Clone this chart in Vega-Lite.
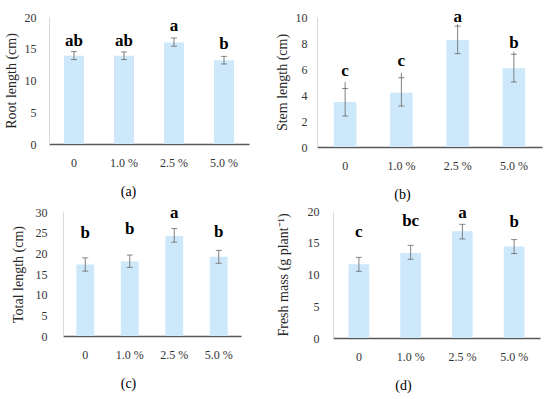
{
  "$schema": "https://vega.github.io/schema/vega-lite/v6.json",
  "padding": {"left": 4, "top": 7, "right": 5, "bottom": 3},
  "background": "white",
  "config": {
    "view": {"stroke": null},
    "font": "Liberation Serif",
    "axis": {"grid": false, "ticks": false, "labelFont": "Liberation Serif", "labelFontSize": 12, "labelColor": "#333333", "titleFont": "Liberation Serif", "titleFontWeight": "normal", "titleFontSize": 14, "titleColor": "#262626"},
    "axisX": {"domainColor": "#595959", "domainWidth": 1.5, "labelPadding": 13, "titlePadding": 16, "labelAngle": 0, "titleFontSize": 14, "titleColor": "#000000"},
    "axisY": {"domainColor": "#d9d9d9", "labelPadding": 11, "titlePadding": 6, "labelOverlap": false}
  },
  "columns": 2,
  "align": "none",
  "spacing": {"row": 2, "column": 26},
  "concat": [
        {
          "width": 200, "height": 127,
          "data": {"values": [
            {"treatment": "0", "mean": 13.9, "low": 13.3, "high": 14.55, "top": 14.55, "letter": "ab", "letterPos": 15.5},
            {"treatment": "1.0 %", "mean": 13.9, "low": 13.3, "high": 14.5, "top": 14.5, "letter": "ab", "letterPos": 15.5},
            {"treatment": "2.5 %", "mean": 16.0, "low": 15.4, "high": 16.7, "top": 16.7, "letter": "a", "letterPos": 17.8},
            {"treatment": "5.0 %", "mean": 13.2, "low": 12.6, "high": 13.8, "top": 13.8, "letter": "b", "letterPos": 15.0}
          ]},
          "encoding": {"x": {"field": "treatment", "type": "nominal", "sort": null, "scale": {"paddingInner": 0.6, "paddingOuter": 0.3}, "axis": {"title": "(a)", "titleX": 79}}},
          "layer": [
            {"mark": {"type": "bar", "color": "#cce8fa"}, "encoding": {"y": {"field": "mean", "type": "quantitative", "scale": {"domain": [0, 20]}, "axis": {"values": [0, 5, 10, 15, 20], "labelOverlap": false, "title": "Root length (cm)", "labelPadding": 13, "titlePadding": 6}}}},
            {"mark": {"type": "rule", "color": "#7f7f7f", "strokeWidth": 1}, "encoding": {"y": {"field": "low", "type": "quantitative", "axis": {"values": [0, 5, 10, 15, 20], "labelOverlap": false, "title": "Root length (cm)", "labelPadding": 13, "titlePadding": 6}}, "y2": {"field": "top"}}},
            {"mark": {"type": "tick", "color": "#595959", "size": 6, "thickness": 1}, "encoding": {"y": {"field": "low", "type": "quantitative", "axis": {"values": [0, 5, 10, 15, 20], "labelOverlap": false, "title": "Root length (cm)", "labelPadding": 13, "titlePadding": 6}}}},
            {"mark": {"type": "tick", "color": "#595959", "size": 6, "thickness": 1}, "encoding": {"y": {"field": "high", "type": "quantitative", "axis": {"values": [0, 5, 10, 15, 20], "labelOverlap": false, "title": "Root length (cm)", "labelPadding": 13, "titlePadding": 6}}}},
            {"mark": {"type": "text", "fontWeight": "bold", "fontSize": 17, "baseline": "alphabetic", "font": "Liberation Serif", "color": "#000000"}, "encoding": {"y": {"field": "letterPos", "type": "quantitative", "axis": {"values": [0, 5, 10, 15, 20], "labelOverlap": false, "title": "Root length (cm)", "labelPadding": 13, "titlePadding": 6}}, "text": {"field": "letter"}}}
          ]
        },
        {
          "width": 225, "height": 130,
          "data": {"values": [
            {"treatment": "0", "mean": 3.46, "low": 2.38, "high": 4.5, "top": 5.0, "letter": "c", "letterPos": 5.46},
            {"treatment": "1.0 %", "mean": 4.18, "low": 3.15, "high": 5.33, "top": 5.7, "letter": "c", "letterPos": 6.23},
            {"treatment": "2.5 %", "mean": 8.23, "low": 7.18, "high": 9.3, "top": 9.44, "letter": "a", "letterPos": 9.64},
            {"treatment": "5.0 %", "mean": 6.05, "low": 5.0, "high": 7.13, "top": 7.33, "letter": "b", "letterPos": 7.64}
          ]},
          "encoding": {"x": {"field": "treatment", "type": "nominal", "sort": null, "scale": {"paddingInner": 0.6, "paddingOuter": 0.3}, "axis": {"title": "(b)", "titleX": 85}}},
          "layer": [
            {"mark": {"type": "bar", "color": "#cce8fa"}, "encoding": {"y": {"field": "mean", "type": "quantitative", "scale": {"domain": [0, 10]}, "axis": {"values": [0, 2, 4, 6, 8, 10], "labelOverlap": false, "title": "Stem length (cm)", "labelPadding": 10, "titlePadding": 6}}}},
            {"mark": {"type": "rule", "color": "#7f7f7f", "strokeWidth": 1}, "encoding": {"y": {"field": "low", "type": "quantitative", "axis": {"values": [0, 2, 4, 6, 8, 10], "labelOverlap": false, "title": "Stem length (cm)", "labelPadding": 10, "titlePadding": 6}}, "y2": {"field": "top"}}},
            {"mark": {"type": "tick", "color": "#595959", "size": 6, "thickness": 1}, "encoding": {"y": {"field": "low", "type": "quantitative", "axis": {"values": [0, 2, 4, 6, 8, 10], "labelOverlap": false, "title": "Stem length (cm)", "labelPadding": 10, "titlePadding": 6}}}},
            {"mark": {"type": "tick", "color": "#595959", "size": 6, "thickness": 1}, "encoding": {"y": {"field": "high", "type": "quantitative", "axis": {"values": [0, 2, 4, 6, 8, 10], "labelOverlap": false, "title": "Stem length (cm)", "labelPadding": 10, "titlePadding": 6}}}},
            {"mark": {"type": "text", "fontWeight": "bold", "fontSize": 17, "baseline": "alphabetic", "font": "Liberation Serif", "color": "#000000"}, "encoding": {"y": {"field": "letterPos", "type": "quantitative", "axis": {"values": [0, 2, 4, 6, 8, 10], "labelOverlap": false, "title": "Stem length (cm)", "labelPadding": 10, "titlePadding": 6}}, "text": {"field": "letter"}}}
          ]
        },
        {
          "width": 196, "height": 124,
          "data": {"values": [
            {"treatment": "0", "mean": 17.3, "low": 15.7, "high": 18.9, "top": 18.9, "letter": "b", "letterPos": 23.8},
            {"treatment": "1.0 %", "mean": 18.0, "low": 16.6, "high": 19.6, "top": 19.6, "letter": "b", "letterPos": 24.6},
            {"treatment": "2.5 %", "mean": 24.2, "low": 22.7, "high": 26.0, "top": 26.0, "letter": "a", "letterPos": 28.6},
            {"treatment": "5.0 %", "mean": 19.2, "low": 17.6, "high": 20.7, "top": 20.7, "letter": "b", "letterPos": 23.9}
          ]},
          "encoding": {"x": {"field": "treatment", "type": "nominal", "sort": null, "scale": {"range": [14, 192], "paddingInner": 0.6, "paddingOuter": 0.3}, "axis": {"title": "(c)", "titleX": 79}}},
          "layer": [
            {"mark": {"type": "bar", "color": "#cce8fa"}, "encoding": {"y": {"field": "mean", "type": "quantitative", "scale": {"domain": [0, 30]}, "axis": {"values": [0, 5, 10, 15, 20, 25, 30], "labelOverlap": false, "title": "Total length (cm)", "labelPadding": 16, "titlePadding": 10, "offset": -14}}}},
            {"mark": {"type": "rule", "color": "#7f7f7f", "strokeWidth": 1}, "encoding": {"y": {"field": "low", "type": "quantitative", "axis": {"values": [0, 5, 10, 15, 20, 25, 30], "labelOverlap": false, "title": "Total length (cm)", "labelPadding": 16, "titlePadding": 10, "offset": -14}}, "y2": {"field": "top"}}},
            {"mark": {"type": "tick", "color": "#595959", "size": 6, "thickness": 1}, "encoding": {"y": {"field": "low", "type": "quantitative", "axis": {"values": [0, 5, 10, 15, 20, 25, 30], "labelOverlap": false, "title": "Total length (cm)", "labelPadding": 16, "titlePadding": 10, "offset": -14}}}},
            {"mark": {"type": "tick", "color": "#595959", "size": 6, "thickness": 1}, "encoding": {"y": {"field": "high", "type": "quantitative", "axis": {"values": [0, 5, 10, 15, 20, 25, 30], "labelOverlap": false, "title": "Total length (cm)", "labelPadding": 16, "titlePadding": 10, "offset": -14}}}},
            {"mark": {"type": "text", "fontWeight": "bold", "fontSize": 17, "baseline": "alphabetic", "font": "Liberation Serif", "color": "#000000"}, "encoding": {"y": {"field": "letterPos", "type": "quantitative", "axis": {"values": [0, 5, 10, 15, 20, 25, 30], "labelOverlap": false, "title": "Total length (cm)", "labelPadding": 16, "titlePadding": 10, "offset": -14}}, "text": {"field": "letter"}}}
          ]
        },
        {
          "width": 207, "height": 127,
          "data": {"values": [
            {"treatment": "0", "mean": 11.6, "low": 10.5, "high": 12.7, "top": 12.7, "letter": "c", "letterPos": 15.9},
            {"treatment": "1.0 %", "mean": 13.4, "low": 12.4, "high": 14.6, "top": 14.6, "letter": "bc", "letterPos": 17.6},
            {"treatment": "2.5 %", "mean": 16.8, "low": 15.6, "high": 17.9, "top": 17.9, "letter": "a", "letterPos": 18.95},
            {"treatment": "5.0 %", "mean": 14.4, "low": 13.3, "high": 15.5, "top": 15.5, "letter": "b", "letterPos": 17.5}
          ]},
          "encoding": {"x": {"field": "treatment", "type": "nominal", "sort": null, "scale": {"paddingInner": 0.6, "paddingOuter": 0.3}, "axis": {"title": "(d)", "titleX": 70}}},
          "layer": [
            {"mark": {"type": "bar", "color": "#cce8fa"}, "encoding": {"y": {"field": "mean", "type": "quantitative", "scale": {"domain": [0, 20]}, "axis": {"values": [0, 5, 10, 15, 20], "labelOverlap": false, "title": "Fresh mass (g plant⁻¹)", "labelPadding": 14, "titlePadding": 17}}}},
            {"mark": {"type": "rule", "color": "#7f7f7f", "strokeWidth": 1}, "encoding": {"y": {"field": "low", "type": "quantitative", "axis": {"values": [0, 5, 10, 15, 20], "labelOverlap": false, "title": "Fresh mass (g plant⁻¹)", "labelPadding": 14, "titlePadding": 17}}, "y2": {"field": "top"}}},
            {"mark": {"type": "tick", "color": "#595959", "size": 6, "thickness": 1}, "encoding": {"y": {"field": "low", "type": "quantitative", "axis": {"values": [0, 5, 10, 15, 20], "labelOverlap": false, "title": "Fresh mass (g plant⁻¹)", "labelPadding": 14, "titlePadding": 17}}}},
            {"mark": {"type": "tick", "color": "#595959", "size": 6, "thickness": 1}, "encoding": {"y": {"field": "high", "type": "quantitative", "axis": {"values": [0, 5, 10, 15, 20], "labelOverlap": false, "title": "Fresh mass (g plant⁻¹)", "labelPadding": 14, "titlePadding": 17}}}},
            {"mark": {"type": "text", "fontWeight": "bold", "fontSize": 17, "baseline": "alphabetic", "font": "Liberation Serif", "color": "#000000"}, "encoding": {"y": {"field": "letterPos", "type": "quantitative", "axis": {"values": [0, 5, 10, 15, 20], "labelOverlap": false, "title": "Fresh mass (g plant⁻¹)", "labelPadding": 14, "titlePadding": 17}}, "text": {"field": "letter"}}}
          ]
        }
  ]
}
